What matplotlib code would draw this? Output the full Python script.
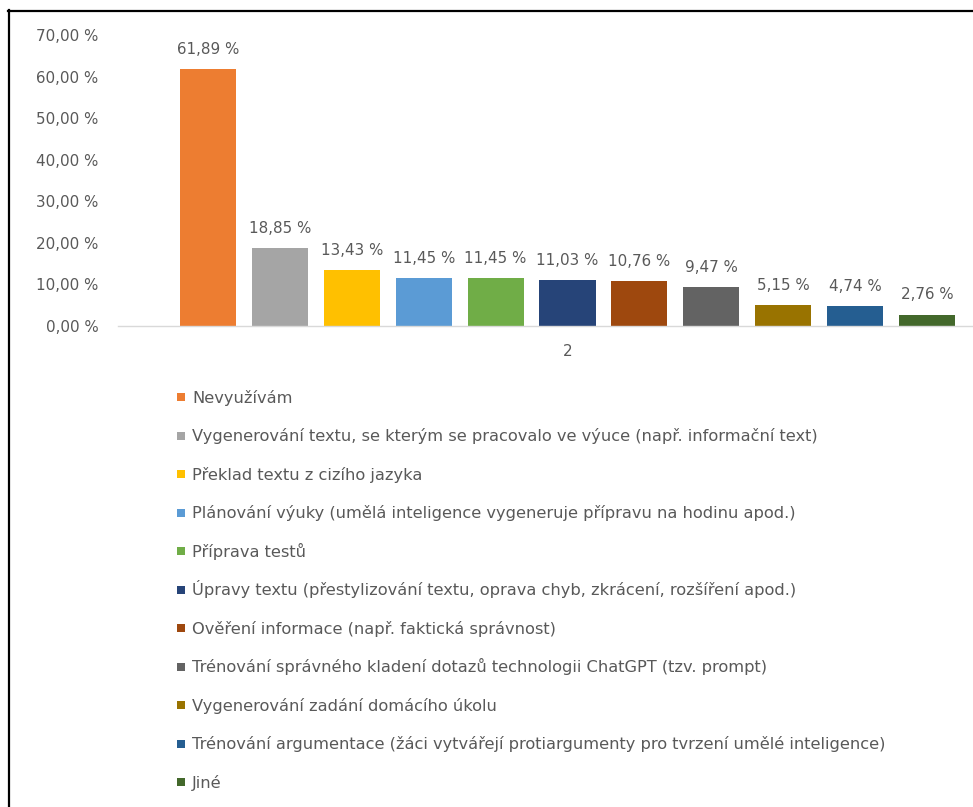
import matplotlib
matplotlib.use("Agg")
import matplotlib.pyplot as plt
from matplotlib.lines import Line2D
from matplotlib.patches import Rectangle

categories = [
    "Nevyužívám",
    "Vygenerování textu, se kterým se pracovalo ve výuce (např. informační text)",
    "Překlad textu z cizího jazyka",
    "Plánování výuky (umělá inteligence vygeneruje přípravu na hodinu apod.)",
    "Příprava testů",
    "Úpravy textu (přestylizování textu, oprava chyb, zkrácení, rozšíření apod.)",
    "Ověření informace (např. faktická správnost)",
    "Trénování správného kladení dotazů technologii ChatGPT (tzv. prompt)",
    "Vygenerování zadání domácího úkolu",
    "Trénování argumentace (žáci vytvářejí protiargumenty pro tvrzení umělé inteligence)",
    "Jiné",
]
values = [61.89, 18.85, 13.43, 11.45, 11.45, 11.03, 10.76, 9.47, 5.15, 4.74, 2.76]
colors = ["#ED7D31", "#A5A5A5", "#FFC000", "#5B9BD5", "#70AD47", "#264478",
          "#9E480E", "#636363", "#997300", "#255E91", "#43682B"]
yticks = [0, 10, 20, 30, 40, 50, 60, 70]
group_label = "2"

TXT = "#595959"
FONT = "DejaVu Sans"
NUM_FS = 10.9
LEG_FS = 11.7

W, H = 973, 807
fig = plt.figure(figsize=(W / 100, H / 100), dpi=100)
fig.patch.set_facecolor("white")

# axes rectangle in pixels (runs past the right edge of the figure)
ax_l, ax_r, ax_b, ax_t = 118, 1017, 326, 35
ax = fig.add_axes([ax_l / W, 1 - ax_b / H, (ax_r - ax_l) / W, (ax_b - ax_t) / H])
ax.set_facecolor("none")

x = list(range(len(values)))
bars = ax.bar(x, values, width=0.78, color=colors, zorder=2, clip_on=False)

for xi, v in zip(x, values):
    ax.annotate(f"{v:.2f} %".replace(".", ","), (xi, v), xytext=(0, 8.7),
                textcoords="offset points", ha="center", va="bottom",
                fontsize=NUM_FS, color=TXT, family=FONT)

ax.set_ylim(0, 70)
ax.set_xlim(-1.252, 11.252)
ax.set_yticks(yticks)
ax.set_yticklabels([f"{t:.2f} %".replace(".", ",") for t in yticks],
                   fontsize=NUM_FS, color=TXT, family=FONT)
ax.tick_params(axis="y", length=0, pad=14)
ax.set_xticks([sum(x) / len(x)])
ax.set_xticklabels([group_label], fontsize=NUM_FS, color=TXT, family=FONT)
ax.tick_params(axis="x", length=0, pad=13)
for s in ["top", "right", "left"]:
    ax.spines[s].set_visible(False)
ax.spines["bottom"].set_color("#D9D9D9")
ax.spines["bottom"].set_linewidth(1.0)
ax.spines["bottom"].set_clip_on(False)

# legend: one column under the plot with evenly spaced rows
first_row, row_step = 397.0, 38.5
sq_left, sq_size, text_left = 177.0, 8.0, 192.0
cap_half = 0.73 * LEG_FS * 100 / 72 / 2
for i, bar in enumerate(bars):
    yc = first_row + row_step * i
    fig.add_artist(Rectangle((sq_left / W, 1 - (yc + sq_size / 2) / H),
                             sq_size / W, sq_size / H,
                             facecolor=bar.get_facecolor(), edgecolor="none",
                             transform=fig.transFigure))
    fig.text(text_left / W, 1 - (yc + cap_half) / H, categories[i],
             ha="left", va="baseline", fontsize=LEG_FS, color=TXT, family=FONT)

# outer frame on the left and top
fig.add_artist(Line2D([8.5 / W, 8.5 / W], [0, 1 - 10 / H], color="black", lw=1.6,
                      transform=fig.transFigure))
fig.add_artist(Line2D([7.7 / W, 1], [1 - 10.5 / H, 1 - 10.5 / H], color="black", lw=1.6,
                      transform=fig.transFigure))

fig.savefig("out.png", dpi=100)
